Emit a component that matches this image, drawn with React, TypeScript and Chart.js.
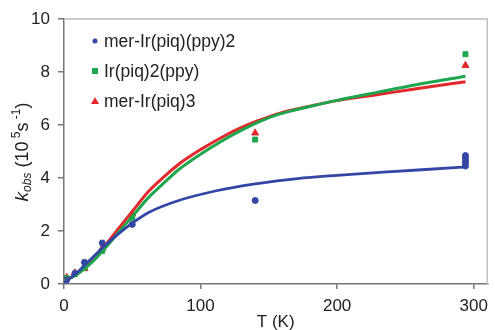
import React, { useEffect, useRef } from "react";
import { Chart, registerables } from "chart.js";

Chart.register(...registerables);

// Measured data points
const blueT = [2, 8, 15, 28, 50, 140, 294, 294, 294, 294, 294];
const blueK = [0.15, 0.4, 0.82, 1.55, 2.25, 3.15, 4.45, 4.55, 4.65, 4.75, 4.85];
const greenT = [2, 8, 15, 28, 50, 140, 294];
const greenK = [0.22, 0.38, 0.62, 1.25, 2.5, 5.45, 8.67];
const redT = [2, 8, 15, 28, 50, 140, 294];
const redK = [0.25, 0.42, 0.58, 1.35, 2.65, 5.7, 8.25];

// Fit curves
const blueFitT = [0, 10, 20, 30, 40, 50, 62, 84, 110, 140, 171, 200, 243, 289, 294];
const blueFitK = [0.05, 0.45, 0.95, 1.45, 1.9, 2.3, 2.7, 3.15, 3.5, 3.78, 3.98, 4.1, 4.25, 4.4, 4.42];
const redFitT = [0, 10, 20, 30, 40, 50, 62, 75, 84, 100, 115, 128, 142, 157, 180, 200, 230, 258, 294];
const redFitK = [0.1, 0.4, 0.85, 1.45, 2.1, 2.74, 3.5, 4.13, 4.52, 5.07, 5.52, 5.86, 6.16, 6.43, 6.71, 6.92, 7.15, 7.37, 7.63];
const greenFitT = [0, 10, 20, 30, 40, 50, 62, 75, 84, 100, 115, 128, 142, 157, 180, 200, 230, 258, 294];
const greenFitK = [0.1, 0.38, 0.8, 1.35, 1.95, 2.55, 3.27, 3.9, 4.32, 4.9, 5.38, 5.75, 6.1, 6.4, 6.7, 6.93, 7.24, 7.52, 7.84];

const xTicks = [0, 100, 200, 300];
const seriesLabels = ["mer-Ir(piq)(ppy)2", "Ir(piq)2(ppy)", "mer-Ir(piq)3"];
const xTitle = "T (K)";

const BLUE = "#3346a6";
const GREEN = "#1ea64c";
const RED = "#e2282b";
const FONT = "'Liberation Sans', Arial, sans-serif";
const TEXT = "#222222";

const pts = (xs: number[], ys: number[]) => xs.map((x, i) => ({ x, y: ys[i] }));

const decorPlugin = {
  id: "decor",
  afterDraw(chart: any) {
    const ctx = chart.ctx as CanvasRenderingContext2D;
    const a = chart.chartArea;
    ctx.save();
    // top and right frame
    ctx.strokeStyle = "#bdbdbd";
    ctx.lineWidth = 1.5;
    ctx.beginPath();
    ctx.moveTo(a.left, a.top);
    ctx.lineTo(a.right, a.top);
    ctx.lineTo(a.right, a.bottom);
    ctx.stroke();

    // legend
    const legendY = [41, 71, 101];
    const mx = 95;
    ctx.font = `17.5px ${FONT}`;
    ctx.textBaseline = "middle";
    ctx.textAlign = "left";
    for (let i = 0; i < 3; i++) {
      const y = legendY[i];
      if (i === 0) {
        ctx.fillStyle = BLUE;
        ctx.beginPath();
        ctx.arc(mx, y, 2.5, 0, Math.PI * 2);
        ctx.fill();
      } else if (i === 1) {
        ctx.fillStyle = GREEN;
        ctx.fillRect(mx - 3, y - 3, 6, 6);
      } else {
        ctx.fillStyle = RED;
        ctx.beginPath();
        ctx.moveTo(mx, y - 4);
        ctx.lineTo(mx + 4, y + 3);
        ctx.lineTo(mx - 4, y + 3);
        ctx.closePath();
        ctx.fill();
      }
      ctx.fillStyle = TEXT;
      ctx.fillText(seriesLabels[i], 104, y + 1);
    }

    // x title
    ctx.textAlign = "center";
    ctx.textBaseline = "alphabetic";
    ctx.font = `17px ${FONT}`;
    ctx.fillText(xTitle, (a.left + a.right) / 2, 327);

    // y title with sub/superscripts, rotated
    const parts: { t: string; f: string; dy: number }[] = [
      { t: "k", f: `italic 19px ${FONT}`, dy: 0 },
      { t: "obs", f: `italic 12px ${FONT}`, dy: 3 },
      { t: " (10", f: `18px ${FONT}`, dy: 0 },
      { t: " 5", f: `12px ${FONT}`, dy: -8 },
      { t: "s", f: `18px ${FONT}`, dy: 0 },
      { t: " -1", f: `12px ${FONT}`, dy: -8 },
      { t: ")", f: `18px ${FONT}`, dy: 0 },
    ];
    let total = 0;
    const widths = parts.map((p) => {
      ctx.font = p.f;
      const w = ctx.measureText(p.t).width;
      total += w;
      return w;
    });
    ctx.translate(28, 152);
    ctx.rotate(-Math.PI / 2);
    ctx.textAlign = "left";
    let x = -total / 2;
    parts.forEach((p, i) => {
      ctx.font = p.f;
      ctx.fillText(p.t, x, p.dy);
      x += widths[i];
    });
    ctx.restore();
  },
};

export default function App() {
  const ref = useRef<HTMLCanvasElement | null>(null);
  useEffect(() => {
    if (!ref.current) return;
    const fit = (label: string, xs: number[], ys: number[], color: string, w: number) =>
      ({
        type: "line",
        label,
        data: pts(xs, ys),
        borderColor: color,
        borderWidth: w,
        pointRadius: 0,
        cubicInterpolationMode: "monotone",
        fill: false,
      } as any);
    const chart = new Chart(ref.current, {
      type: "scatter",
      data: {
        datasets: [
          fit("fit1", blueFitT, blueFitK, BLUE, 2.8),
          fit("fit2", greenFitT, greenFitK, GREEN, 3),
          fit("fit3", redFitT, redFitK, RED, 3),
          {
            label: seriesLabels[0],
            data: pts(blueT, blueK),
            backgroundColor: BLUE,
            borderColor: BLUE,
            pointStyle: "circle",
            pointRadius: 3,
          },
          {
            label: seriesLabels[1],
            data: pts(greenT, greenK),
            backgroundColor: GREEN,
            borderColor: GREEN,
            pointStyle: "rect",
            pointRadius: 3.5,
          },
          {
            label: seriesLabels[2],
            data: pts(redT, redK),
            backgroundColor: RED,
            borderColor: RED,
            pointStyle: "triangle",
            pointRadius: 4,
          },
        ],
      },
      options: {
        animation: false,
        responsive: false,
        maintainAspectRatio: false,
        layout: { padding: { left: 0, right: 3, top: 19, bottom: 0 } },
        plugins: { legend: { display: false }, tooltip: { enabled: false } },
        scales: {
          x: {
            type: "linear",
            min: 0,
            max: 310,
            afterFit: (s: any) => {
              s.height = 46;
            },
            afterBuildTicks: (s: any) => {
              s.ticks = xTicks.map((v) => ({ value: v }));
            },
            ticks: {
              color: TEXT,
              font: { family: FONT, size: 17 },
              padding: 7,
            },
            grid: {
              drawOnChartArea: false,
              drawTicks: true,
              tickLength: 5,
              color: "#777",
              lineWidth: 1.5,
            },
            border: { color: "#777", width: 1.5 },
          },
          y: {
            type: "linear",
            min: 0,
            max: 10,
            afterFit: (s: any) => {
              s.width = 64;
            },
            ticks: {
              stepSize: 2,
              color: TEXT,
              font: { family: FONT, size: 17 },
              padding: 8,
            },
            grid: {
              drawOnChartArea: false,
              drawTicks: true,
              tickLength: 6,
              color: "#777",
              lineWidth: 1.5,
            },
            border: { color: "#777", width: 1.5 },
          },
        },
      } as any,
      plugins: [decorPlugin],
    });
    return () => chart.destroy();
  }, []);
  return (
    <div style={{ position: "fixed", left: 0, top: 0, width: 495, height: 330, background: "#fff" }}>
      <canvas ref={ref} width={495} height={330} style={{ width: 495, height: 330 }} />
    </div>
  );
}
